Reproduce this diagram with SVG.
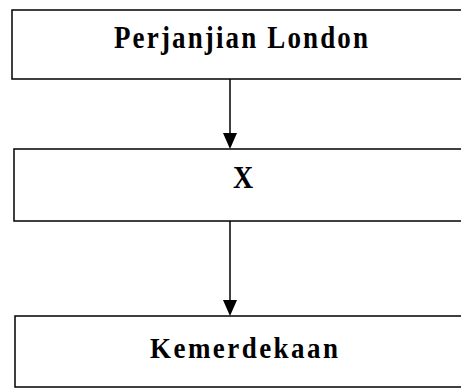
<svg xmlns="http://www.w3.org/2000/svg" width="461" height="388" viewBox="0 0 461 388">
<style>
.box{fill:#fff;stroke:#000;stroke-width:1.5}
.lbl{font-family:"Liberation Serif","Times New Roman",serif;font-weight:bold;font-size:27px;fill:#000}
.con{stroke:#000;stroke-width:1.5;fill:none}
</style>
<rect width="461" height="388" fill="#fff"/>
<g id="n1">
<rect class="box" x="12" y="10" width="470" height="69"/>
<text class="lbl" transform="translate(114,48) scale(1,1.15)" x="0" y="0" textLength="254" lengthAdjust="spacing">Perjanjian London</text>
</g>
<g id="n2">
<rect class="box" x="14" y="149" width="470" height="72"/>
<text class="lbl" transform="translate(243,188) scale(1,1.1)" x="0" y="0" text-anchor="middle" style="font-size:28px">X</text>
</g>
<g id="n3">
<rect class="box" x="15" y="316" width="470" height="71"/>
<text class="lbl" transform="translate(150,358) scale(1,1.12)" x="0" y="0" textLength="188" lengthAdjust="spacing">Kemerdekaan</text>
</g>
<g id="connectors">
<line class="con" x1="230" y1="79" x2="230" y2="134"/>
<path d="M223,133 L237,133 L230,149 Z" fill="#000"/>
<line class="con" x1="230" y1="221" x2="230" y2="301"/>
<path d="M223,300 L237,300 L230,316 Z" fill="#000"/>
</g>
</svg>
